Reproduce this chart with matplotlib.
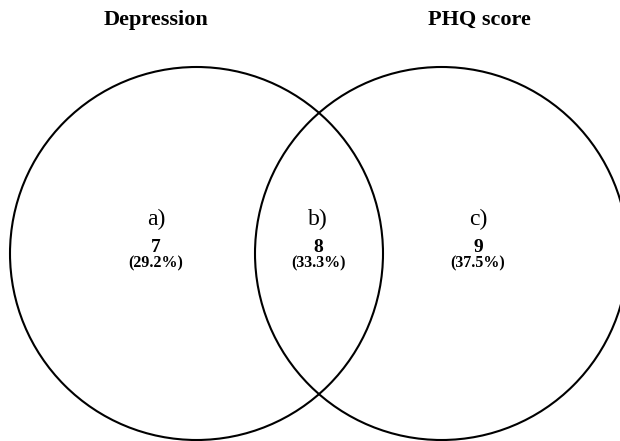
import matplotlib as mpl
mpl.use("Agg")
import matplotlib.pyplot as plt
from matplotlib.patches import Circle

mpl.rcParams['font.family'] = "serif"
mpl.rcParams['font.serif'] = ["Liberation Serif", "DejaVu Serif"]

# data
set_names = ["Depression", "PHQ score"]
region_tags = ["a)", "b)", "c)"]
counts = [7, 8, 9]
total = sum(counts)

# layout in pixel units of a 620x441 canvas
circle_x = [196.5, 441.5]
circle_y = 253.5
radius = 186.5
region_x = [156, 318, 478]
title_x = [156, 479]

fig = plt.figure(figsize=(6.2, 4.41), dpi=100)
ax = fig.add_axes([0, 0, 1, 1])
ax.set_xlim(0, 620)
ax.set_ylim(441, 0)
ax.set_aspect("equal")
ax.axis("off")

for cx in circle_x:
    ax.add_patch(Circle((cx, circle_y), radius, fill=False, edgecolor="black", lw=1.5))

for name, x in zip(set_names, title_x):
    ax.text(x, 25, name, ha="center", va="baseline", fontsize=16, fontweight="bold")

for tag, n, x in zip(region_tags, counts, region_x):
    pct = 100.0 * n / total
    ax.text(x, 225, tag, ha="center", va="baseline", fontsize=17)
    ax.text(x, 252, str(n), ha="center", va="baseline", fontsize=14, fontweight="bold")
    ax.text(x, 267, "(%.1f%%)" % pct, ha="center", va="baseline", fontsize=11.5, fontweight="bold")

fig.savefig("out.png", dpi=100)
